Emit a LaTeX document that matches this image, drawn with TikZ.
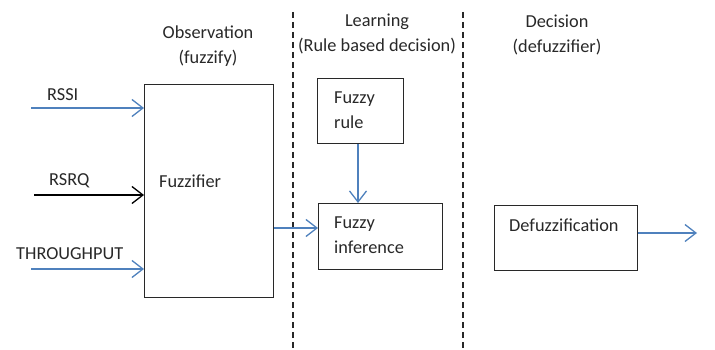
\documentclass[tikz,border=0pt]{standalone}
\usepackage{fontspec}
\setmainfont{Carlito}
\usetikzlibrary{arrows.meta}
\definecolor{obl}{RGB}{79,129,189}
\definecolor{dk}{RGB}{40,40,40}
\tikzset{
  box/.style={draw=dk, line width=1pt, rectangle, inner sep=0pt, anchor=north west},
  lbl/.style={font=\fontsize{18.3}{25}\selectfont, text=dk, inner sep=0pt},
  barrow/.style={draw=obl, line width=1.3pt, -{Straight Barb[length=11pt,width=17pt,line width=1.3pt]}},
  karrow/.style={draw=black, line width=1.3pt, -{Straight Barb[length=11pt,width=17pt,line width=1.3pt]}},
  sep/.style={draw=dk, line width=1.3pt, dash pattern=on 6pt off 4pt}
}
\begin{document}
\begin{tikzpicture}[x=1pt,y=-1pt]
\useasboundingbox (0,0) rectangle (715,350);
% boxes
\node[box, minimum width=129pt, minimum height=213pt] (fuz) at (144,84) {};
\node[box, minimum width=86pt, minimum height=65pt] (rule) at (317,78) {};
\node[box, minimum width=124pt, minimum height=66pt] (inf) at (318,203) {};
\node[box, minimum width=143pt, minimum height=65pt] (defz) at (494,205) {};
% dashed separators
\coordinate (s1t) at (293,12); \coordinate (s1b) at (293,350);
\coordinate (s2t) at (463,12); \coordinate (s2b) at (463,350);
\draw[sep] (s1t) -- (s1b);
\draw[sep] (s2t) -- (s2b);
% titles
\node[lbl, align=center] (t1) at (208,46.5) {Observation\\(fuzzify)};
\node[lbl, align=center] (t2) at (377,33.5) {Learning\\(Rule based decision)};
\node[lbl, align=center] (t3) at (557,35) {Decision\\(defuzzifier)};
% box texts
\node[lbl, anchor=west] (fuzt) at (159,181) {Fuzzifier};
\node[lbl, anchor=west, align=left] (rulet) at (334,110.5) {Fuzzy\\rule};
\node[lbl, anchor=west, align=left] (inft) at (334,235.5) {Fuzzy\\inference};
\node[lbl, anchor=west] (defzt) at (509,225) {Defuzzification};
% input labels
\node[lbl, anchor=west] (rssi) at (47,95) {RSSI};
\node[lbl, anchor=west] (rsrq) at (49,181) {RSRQ};
\node[lbl, anchor=west] (thr) at (16,254) {THROUGHPUT};
% input arrows
\coordinate (i1) at (31,108);
\coordinate (i2) at (34,195);
\coordinate (i3) at (31,269);
\coordinate (o) at (697,233);
\draw[barrow] (i1) -- (i1 -| fuz.west);
\draw[karrow] (i2) -- (i2 -| fuz.west);
\draw[barrow] (i3) -- (i3 -| fuz.west);
% connectors
\draw[barrow] (fuz.east |- 0,228) -- (inf.west |- 0,228);
\draw[barrow] (rule.south -| 358,0) -- (inf.north -| 358,0);
\draw[barrow] (defz.east |- o) -- (o);
\end{tikzpicture}
\end{document}
